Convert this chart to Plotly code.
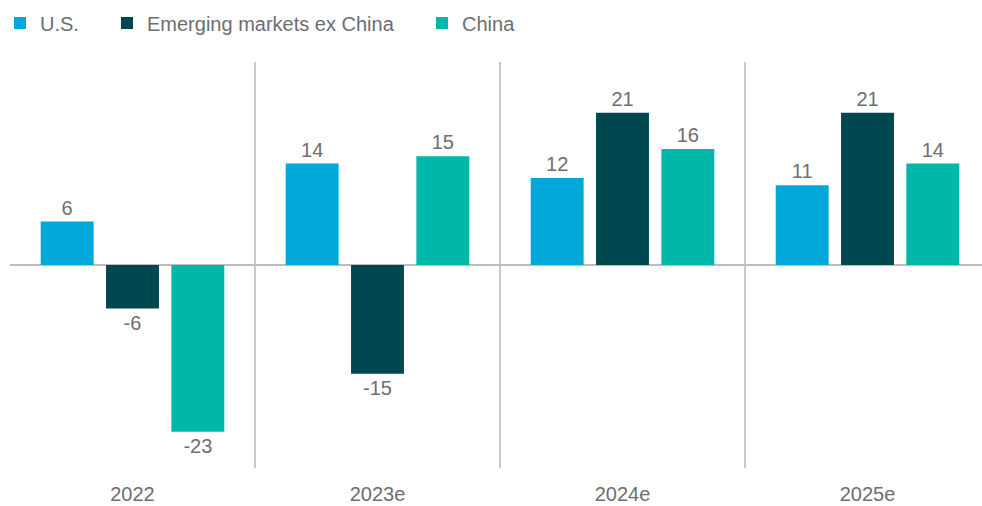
import plotly.graph_objects as go

categories = ["2022", "2023e", "2024e", "2025e"]
us = [6, 14, 12, 11]
em_ex_china = [-6, -15, 21, 21]
china = [-23, 15, 16, 14]

series = [
    ("U.S.", us, "#00A9DA", "legend"),
    ("Emerging markets ex China", em_ex_china, "#00474F", "legend2"),
    ("China", china, "#00B8A9", "legend3"),
]

TXT = "#6D6E71"
FONT = "Liberation Sans"
xpos = list(range(len(categories)))

fig = go.Figure()
for name, vals, color, lg in series:
    fig.add_trace(go.Bar(
        x=xpos, y=vals, name=name, marker=dict(color=color, line=dict(width=0)),
        text=[str(v) for v in vals], textposition="outside",
        textfont=dict(color=TXT, size=20, family=FONT),
        cliponaxis=False, legend=lg, showlegend=True,
    ))

W, H = 982, 506
L, R, T, B = 10, 0, 62, 38
pw = W - L - R

legend_common = dict(orientation="h", yref="container", y=1 - 23 / H, yanchor="middle",
                     xref="container", xanchor="left",
                     font=dict(color=TXT, size=20, family=FONT),
                     bgcolor="rgba(0,0,0,0)", itemwidth=30, visible=True)

fig.update_layout(
    width=W, height=H,
    margin=dict(l=L, r=R, t=T, b=B, autoexpand=False),
    plot_bgcolor="white", paper_bgcolor="white",
    showlegend=True,
    barmode="group", bargap=0.2, bargroupgap=0.19,
    legend=dict(**legend_common, x=(17.5 - 20.5) / W),
    legend2=dict(**legend_common, x=(127.5 - 20.5) / W),
    legend3=dict(**legend_common, x=(442.5 - 20.5) / W),
    xaxis=dict(
        range=[-0.5, -0.5 + pw / 245], tickvals=xpos, ticktext=categories,
        showgrid=False, zeroline=False, showline=False, ticks="",
        ticklabelstandoff=12, automargin=False,
        tickfont=dict(color=TXT, size=20, family=FONT),
        minor=dict(tickvals=[-0.5, 0.5, 1.5, 2.5, 3.5], showgrid=True,
                   gridcolor="#C8C8C8", gridwidth=1.5, ticks=""),
    ),
    yaxis=dict(
        range=[-28, 28], showgrid=False, showticklabels=False, ticks="",
        automargin=False,
        zeroline=True, zerolinecolor="#BDBDBD", zerolinewidth=1.5, showline=False,
    ),
)

fig.write_html("out.html")
